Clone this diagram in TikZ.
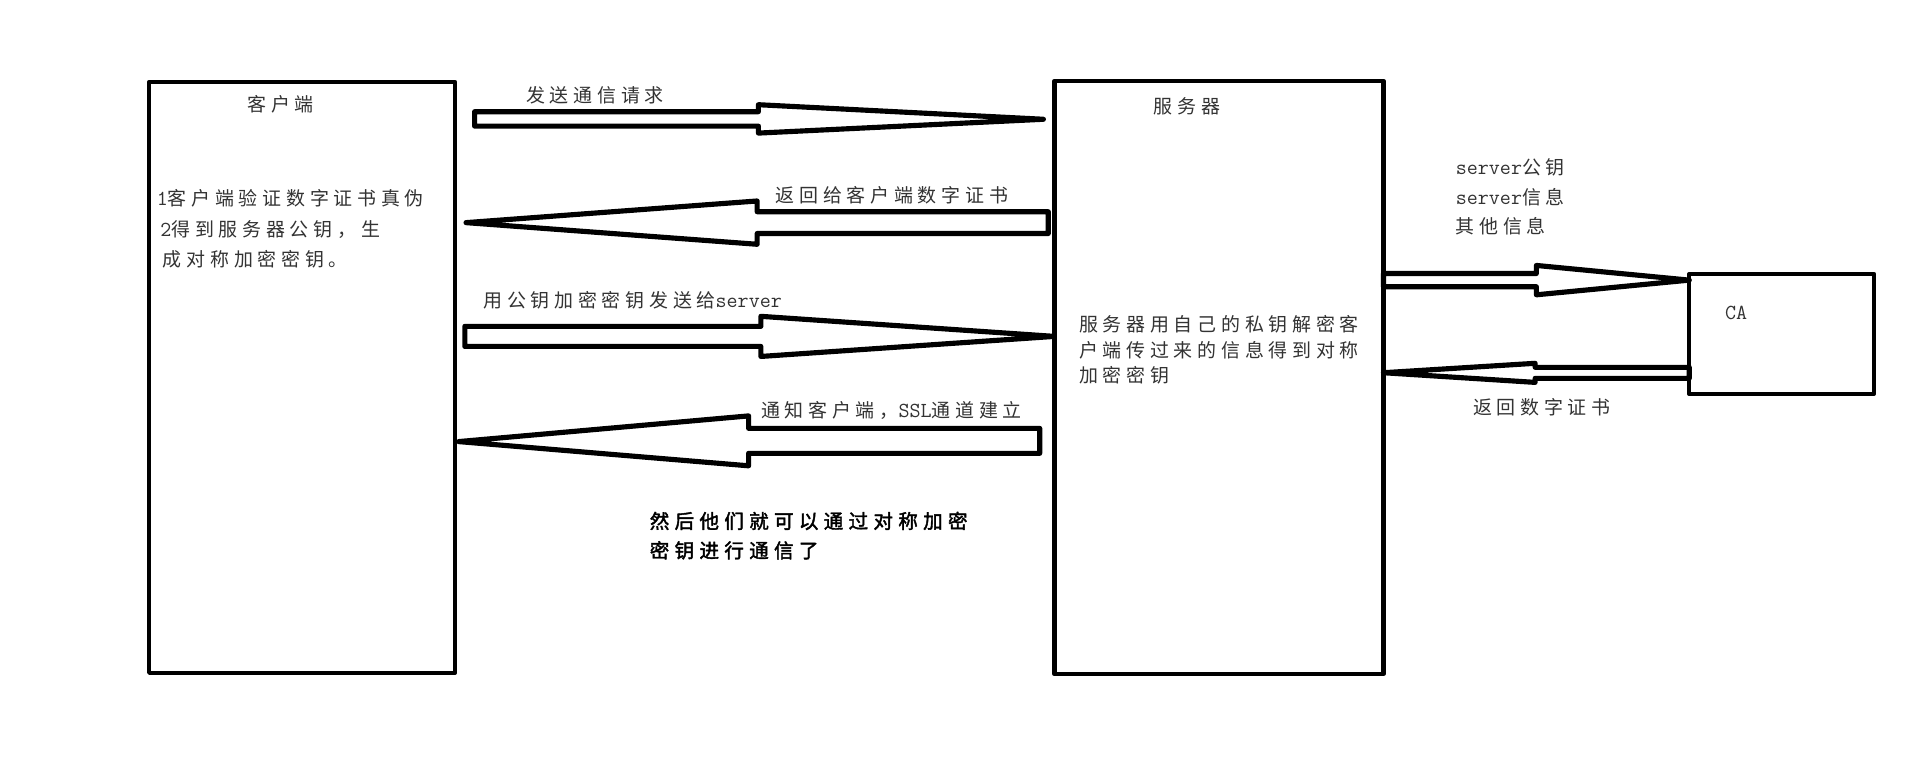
\documentclass[tikz,border=0pt]{standalone}
\usepackage{fontspec}
\newfontfamily\cjkfont[LetterSpace=25]{Noto Sans CJK SC}
\newfontfamily\cjkbold[LetterSpace=27,FakeBold=2]{Noto Sans CJK SC}
\newcommand{\lat}[1]{{\ttfamily\fontsize{17.5}{20}\selectfont #1}}
\usetikzlibrary{calc}
% hollow block arrow: tail, tip, shaft half width, head half width, x of head base
\newcommand{\hollowarrow}[5]{%
  \draw[arrowline] let \p1=(#1), \p2=(#2) in
    (\x1,\y1+#3pt) -- (#5pt,\y1+#3pt) -- (#5pt,\y1+#4pt) -- (\p2)
    -- (#5pt,\y1-#4pt) -- (#5pt,\y1-#3pt) -- (\x1,\y1-#3pt) -- cycle;}
\begin{document}
\begin{tikzpicture}[line cap=round,line join=round,x=1pt,y=-1pt,
  panel/.style={draw,line width=3.5pt,outer sep=0pt,inner sep=0pt,anchor=north west},
  arrowline/.style={line width=4.2pt,line join=round},
  txt/.style={font=\fontsize{15.5}{21}\selectfont\cjkfont,text=black!80,inner sep=0pt,anchor=base west,align=left}]
\useasboundingbox[fill=white] (0,0) rectangle (1568,635);
% boxes
\node[panel,minimum width=250pt,minimum height=483pt] (client) at (122,67) {};
\node[panel,minimum width=269pt,minimum height=485pt] (server) at (862,66) {};
\node[panel,minimum width=151pt,minimum height=98pt] (ca) at (1381,224) {};
% texts in the boxes (base = last line)
\node[txt] (clienttitle) at (202,91) {客户端};
\node[txt,font=\fontsize{15.5}{25}\selectfont\cjkfont] (clientnote) at (128,218)
  {\lat{1}客户端验证数字证书真伪\\ \hspace{3pt}\lat{2}得到服务器公钥，生\\ \hspace{5pt}成对称加密密钥。};
\node[txt] (servertitle) at (943,93) {服务器};
\node[txt] (servernote) at (882,313)
  {服务器用自己的私钥解密客\\户端传过来的信息得到对称\\加密密钥};
\node[txt] (catitle) at (1410,261) {\lat{CA}};
% arrows between client and server
\coordinate (req tail) at (388,97.2);
\coordinate (req tip) at (853,97.5);
\coordinate (cert tail) at (857,182);
\coordinate (cert tip) at (381,182);
\coordinate (key tail) at (380,275);
\coordinate (ok tail) at (850,360.4);
\coordinate (ok tip) at (375,361);
\hollowarrow{req tail}{req tip}{5.9}{11.6}{620}
\hollowarrow{cert tail}{cert tip}{8.9}{17.7}{619}
\hollowarrow{key tail}{server.west |- 0,275}{8.2}{16.4}{622}
\hollowarrow{ok tail}{ok tip}{10.2}{20.4}{612}
% arrows between server and CA
\hollowarrow{server.east |- 0,229}{ca.west |- 0,229}{5.4}{12}{1256}
\hollowarrow{ca.west |- 0,304.8}{server.east |- 0,304.7}{4.5}{7.8}{1255}
% labels
\node[txt] (reqlabel) at (430,84) {发送通信请求};
\node[txt] (certlabel) at (634,165.5) {返回给客户端数字证书};
\node[txt] (keylabel) at (395,251) {用公钥加密密钥发送给\lat{server}};
\node[txt] (oklabel) at (622,341) {通知客户端，\lat{SSL}通道建立};
\node[txt,font=\fontsize{16}{24}\selectfont\cjkbold,text=black] (afterlabel) at (531,456)
  {然后他们就可以通过对称加密\\密钥进行通信了};
\node[txt,font=\fontsize{15.5}{24}\selectfont\cjkfont] (infolabel) at (1190,191)
  {\lat{server}公钥\\\lat{server}信息\\其他信息};
\node[txt] (backlabel) at (1204,338.5) {返回数字证书};
\end{tikzpicture}
\end{document}
